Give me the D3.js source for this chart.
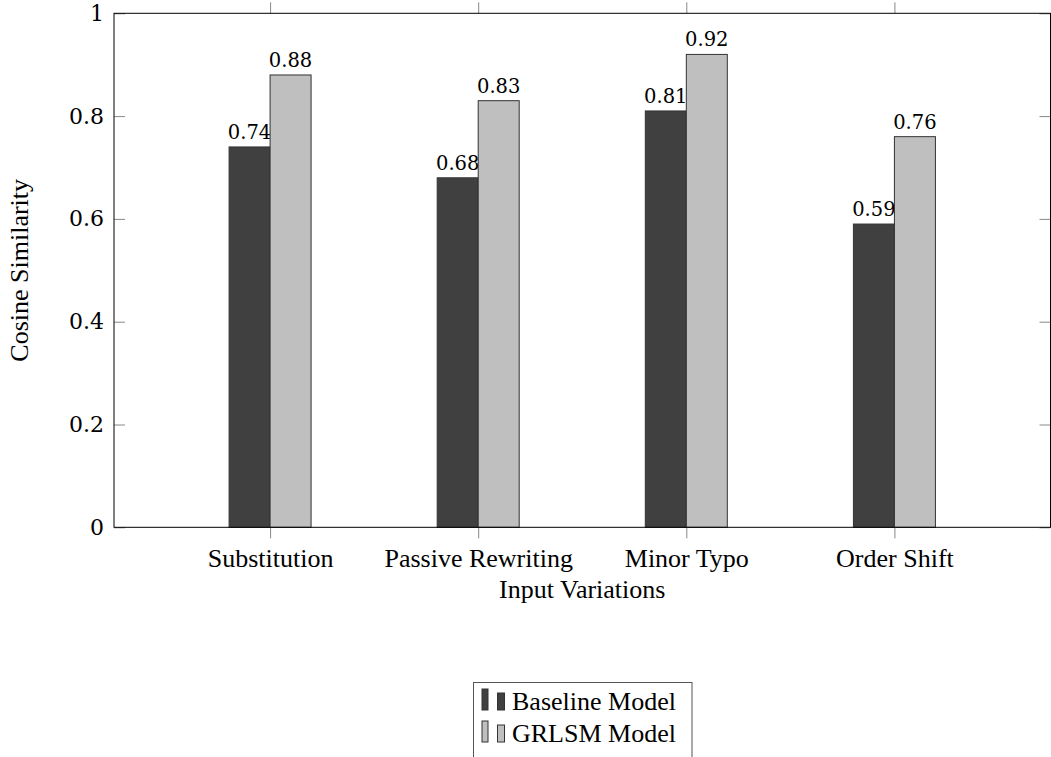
<!DOCTYPE html>
<html>
<head>
<meta charset="utf-8">
<script src="https://cdn.jsdelivr.net/npm/d3@7"></script>
<style>
  html, body { margin: 0; padding: 0; background: #fff; }
  svg text { font-family: 'Liberation Serif', serif; fill: #000; }
  svg text.num { font-family: 'DejaVu Serif', serif; }
</style>
</head>
<body>
<svg id="chart" width="1051" height="757"></svg>
<script>
const categories = ["Substitution", "Passive Rewriting", "Minor Typo", "Order Shift"];
const seriesNames = ["Baseline Model", "GRLSM Model"];
const baselineValues = [0.74, 0.68, 0.81, 0.59];
const grlsmValues = [0.88, 0.83, 0.92, 0.76];
const yTickValues = [0, 0.2, 0.4, 0.6, 0.8, 1];
const yTickLabels = ["0", "0.2", "0.4", "0.6", "0.8", "1"];
const valueLabels = [["0.74", "0.68", "0.81", "0.59"], ["0.88", "0.83", "0.92", "0.76"]];
const seriesColors = ["#404040", "#bfbfbf"];

const svg = d3.select("#chart");
const pLeft = 114, pRight = 1050.5, pTop = 13.3, pBottom = 527.3;

const x = d3.scaleLinear().domain([-0.75, categories.length - 0.25]).range([pLeft, pRight]);
const y = d3.scaleLinear().domain([0, 1]).range([pBottom, pTop]);
const barW = x(0.197) - x(0);

const series = [baselineValues, grlsmValues];

// bars
series.forEach((vals, si) => {
  const g = svg.append("g");
  g.selectAll("rect").data(vals).enter().append("rect")
    .attr("x", (d, i) => si === 0 ? x(i) - barW : x(i))
    .attr("y", d => y(d))
    .attr("width", barW)
    .attr("height", d => y(0) - y(d))
    .attr("fill", seriesColors[si])
    .attr("stroke", "#333")
    .attr("stroke-width", 1);
  g.selectAll("text").data(vals).enter().append("text")
    .attr("class", "num")
    .attr("x", (d, i) => si === 0 ? x(i) - barW / 2 : x(i) + barW / 2)
    .attr("y", d => y(d) - 8)
    .attr("text-anchor", "middle")
    .style("font-size", "19.5px")
    .text((d, i) => valueLabels[si][i]);
});

// axes
const yAxisL = d3.axisLeft(y).tickValues(yTickValues).tickFormat((d, i) => yTickLabels[i]).tickSizeInner(-11).tickSizeOuter(0).tickPadding(10);
const gyl = svg.append("g").attr("transform", `translate(${pLeft},0)`).call(yAxisL);
gyl.attr("font-family", null).attr("font-size", null);
gyl.select(".domain").remove();
gyl.selectAll(".tick line").attr("stroke", "#888");
gyl.selectAll(".tick text").attr("class", "num").style("font-size", "22px").attr("fill", "#000");

const yAxisR = d3.axisRight(y).tickValues(yTickValues).tickFormat("").tickSizeInner(-11).tickSizeOuter(0);
const gyr = svg.append("g").attr("transform", `translate(${pRight},0)`).call(yAxisR);
gyr.select(".domain").remove();
gyr.selectAll(".tick line").attr("stroke", "#888");

const xAxisB = d3.axisBottom(x).tickValues(d3.range(categories.length)).tickFormat(i => categories[i]).tickSizeInner(11).tickSizeOuter(0).tickPadding(10);
const gxb = svg.append("g").attr("transform", `translate(0,${pBottom})`).call(xAxisB);
gxb.attr("font-family", null).attr("font-size", null);
gxb.select(".domain").remove();
gxb.selectAll(".tick line").attr("stroke", "#888");
gxb.selectAll(".tick text").style("font-size", "26px").attr("fill", "#000").attr("dy", "0.71em");

const xAxisT = d3.axisTop(x).tickValues(d3.range(categories.length)).tickFormat("").tickSizeInner(11).tickSizeOuter(0);
const gxt = svg.append("g").attr("transform", `translate(0,${pTop})`).call(xAxisT);
gxt.select(".domain").remove();
gxt.selectAll(".tick line").attr("stroke", "#888");

// frame
svg.append("rect").attr("x", pLeft).attr("y", pTop).attr("width", pRight - pLeft).attr("height", pBottom - pTop)
  .attr("fill", "none").attr("stroke", "#000").attr("stroke-width", 1);

// axis titles
svg.append("text").attr("x", (pLeft + pRight) / 2).attr("y", 598).attr("text-anchor", "middle")
  .style("font-size", "26px").text("Input Variations");
svg.append("text").attr("transform", `translate(28,${(pTop + pBottom) / 2}) rotate(-90)`).attr("text-anchor", "middle")
  .style("font-size", "26px").text("Cosine Similarity");

// legend
const lg = svg.append("g");
lg.append("rect").attr("x", 473.5).attr("y", 682.5).attr("width", 218.5).attr("height", 100)
  .attr("fill", "#fff").attr("stroke", "#555").attr("stroke-width", 1);
seriesNames.forEach((name, i) => {
  const base = 710 + i * 32;
  lg.append("rect").attr("x", 482).attr("y", base - 21).attr("width", 6).attr("height", 21)
    .attr("fill", seriesColors[i]).attr("stroke", "#333").attr("stroke-width", 1);
  lg.append("rect").attr("x", 497.5).attr("y", base - 17).attr("width", 7).attr("height", 17)
    .attr("fill", seriesColors[i]).attr("stroke", "#333").attr("stroke-width", 1);
  lg.append("text").attr("x", 512).attr("y", base).style("font-size", "26px").text(name);
});
</script>
</body>
</html>
